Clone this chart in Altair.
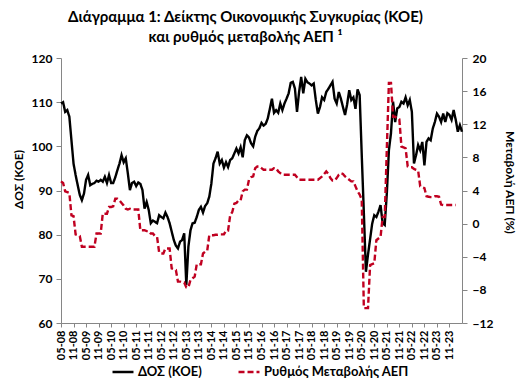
import altair as alt
import pandas as pd

# Monthly index 0 = May 2008
esi = [
    109.7, 110.0, 107.8, 108.2, 106.7, 101.4, 96.1, 93.5, 91.2, 89.0,
    87.8, 89.3, 92.4, 93.5, 91.2, 91.5, 91.7, 92.2, 92.0, 92.4,
    92.0, 93.1, 91.7, 93.5, 91.7, 91.7, 93.0, 94.6, 96.1, 98.0,
    96.4, 97.3, 93.9, 90.1, 91.7, 92.0, 91.0, 91.8, 91.5, 90.1,
    85.9, 87.4, 85.6, 82.6, 83.2, 82.9, 82.6, 84.4, 84.0, 83.7,
    85.0, 84.0, 82.6, 80.7, 78.8, 77.5, 76.9, 78.4, 78.8, 80.3,
    68.6, 77.3, 81.0, 82.6, 82.7, 84.0, 85.6, 86.3, 85.0, 86.5,
    87.1, 88.6, 91.6, 96.1, 97.3, 98.8, 96.1, 96.9, 95.2, 96.4,
    95.3, 96.9, 97.3, 98.4, 99.5, 98.4, 99.8, 97.5, 101.4, 102.5,
    102.0, 100.7, 100.0, 102.2, 103.5, 104.1, 105.3, 104.7, 105.1, 106.3,
    108.5, 110.8, 107.6, 108.2, 107.6, 109.7, 108.2, 109.7, 110.8, 112.0,
    114.4, 114.6, 113.1, 107.8, 112.3, 115.7, 112.0, 115.3, 114.5, 114.2,
    113.8, 114.2, 110.5, 107.4, 108.9, 111.1, 110.5, 112.3, 113.0, 113.8,
    114.6, 110.8, 109.7, 112.3, 110.8, 108.9, 107.1, 109.5, 112.7, 110.5,
    111.1, 108.5, 112.9, 111.6, 98.0, 85.0, 71.6, 75.5, 79.0, 82.5,
    84.4, 84.0, 85.2, 86.7, 82.6, 82.2, 89.3, 99.1, 103.0, 110.1,
    105.5, 108.6, 108.9, 110.1, 109.7, 111.1, 109.3, 110.5, 107.8, 96.1,
    98.0, 100.3, 99.1, 101.0, 95.7, 101.0, 101.8, 101.4, 104.0, 105.5,
    107.4, 106.7, 105.5, 107.4, 105.5, 107.5, 107.1, 106.0, 108.2, 106.0,
    103.3, 104.8, 103.3,
]

gdp = [
    5.1, 4.9, 3.9, 3.8, 3.7, 1.0, 0.9, -1.3, -1.4, -1.5,
    -2.8, -2.8, -2.8, -2.8, -2.8, -2.8, -2.8, -1.2, -1.2, -1.2,
    1.2, 1.2, 1.2, 2.0, 2.0, 2.1, 3.0, 3.0, 2.8, 2.5,
    2.2, 1.8, 1.7, 1.8, 1.7, 1.7, 1.7, 1.7, -0.8, -0.8,
    -0.8, -0.9, -0.9, -1.2, -1.2, -1.5, -1.6, -3.5, -3.6, -3.6,
    -3.0, -3.0, -3.0, -5.4, -5.5, -5.6, -7.0, -7.0, -7.1, -7.1,
    -7.7, -7.7, -6.8, -6.6, -6.4, -4.9, -4.9, -4.9, -3.6, -3.4,
    -3.3, -1.4, -1.4, -1.4, -1.35, -1.35, -1.3, -1.3, -1.3, -0.85,
    -0.85, 1.0, 1.4, 2.4, 2.5, 2.8, 2.8, 3.9, 4.1, 4.1,
    5.3, 5.6, 5.7, 6.7, 6.9, 6.9, 6.7, 6.5, 6.5, 6.5,
    6.5, 6.5, 6.7, 6.7, 6.3, 6.1, 5.9, 5.9, 5.9, 5.9,
    5.9, 5.9, 5.9, 5.6, 5.3, 5.3, 5.3, 5.3, 5.3, 5.3,
    5.3, 5.3, 5.3, 5.3, 5.5, 5.7, 6.0, 6.3, 6.0, 5.5,
    5.2, 5.2, 5.5, 5.9, 6.1, 6.0, 5.7, 5.5, 5.3, 5.1,
    5.1, 4.5, 3.9, 3.5, 2.9, -10.2, -10.2, -10.2, -5.0, -4.9,
    -4.8, -2.0, -1.8, -1.6, 0.8, 0.8, 9.0, 17.0, 17.0, 12.9,
    12.9, 12.7, 12.6, 9.3, 9.2, 9.1, 6.9, 6.8, 6.8, 6.6,
    6.5, 6.4, 4.5, 4.4, 4.3, 3.3, 3.25, 3.2, 3.2, 3.3,
    3.3, 3.25, 2.3, 2.25, 2.25, 2.25, 2.25, 2.25, 2.25, 2.25,
]

tick_months = list(range(0, 187, 6))
names = ["ΔΟΣ (ΚΟΕ)", "Ρυθμός Μεταβολής ΑΕΠ"]
left_ticks = [60, 70, 80, 90, 100, 110, 120]
right_ticks = [-12, -8, -4, 0, 4, 8, 12, 16, 20]

df_esi = pd.DataFrame({"m": list(range(len(esi))), "v": esi, "s": names[0]})
df_gdp = pd.DataFrame({"m": list(range(len(gdp))), "v": gdp, "s": names[1]})

FONT = "Lato"
AX = "#868686"

color_scale = alt.Scale(domain=names, range=["#000000", "#C00020"])
dash_scale = alt.Scale(domain=names, range=[[1, 0], [6, 3]])

legend = alt.Legend(
    title=None, orient="none", legendX=50, legendY=302, direction="horizontal",
    symbolType="stroke", symbolSize=440, symbolStrokeWidth=2.5,
    labelFont=FONT, labelFontWeight="bold", labelFontSize=13, labelColor="#000",
    columnPadding=31, labelOffset=3,
)

x_enc = alt.X(
    "m:Q",
    scale=alt.Scale(domain=[0, 192], nice=False, zero=False),
    axis=alt.Axis(
        values=tick_months,
        labelExpr="timeFormat(datetime(2008, 4 + datum.value, 1), '%m-%y')",
        labelAngle=-90, title=None, grid=False, labelFontSize=11,
        tickSize=4, labelPadding=3,
    ),
)

color_enc = alt.Color("s:N", scale=color_scale, legend=legend)
dash_enc = alt.StrokeDash("s:N", scale=dash_scale, legend=legend)

esi_line = alt.Chart(df_esi).mark_line(strokeWidth=2.4).encode(
    x=x_enc,
    y=alt.Y("v:Q", scale=alt.Scale(domain=[60, 120], nice=False, zero=False),
            axis=alt.Axis(orient="left", values=left_ticks, title="ΔΟΣ (ΚΟΕ)",
                          grid=False, tickSize=5, labelPadding=4,
                          titleY=121, titleX=-36, titleAlign="center")),
    color=color_enc,
    strokeDash=dash_enc,
)

gdp_line = alt.Chart(df_gdp).mark_line(strokeWidth=2.4).encode(
    x=x_enc,
    y=alt.Y("v:Q", scale=alt.Scale(domain=[-12, 20], nice=False, zero=False),
            axis=alt.Axis(orient="right", values=right_ticks, title="Μεταβολή ΑΕΠ (%)",
                          grid=False, tickSize=5, labelPadding=5,
                          titleY=124, titleX=40, titleAlign="center")),
    color=color_enc,
    strokeDash=dash_enc,
)

chart = (
    alt.layer(esi_line, gdp_line)
    .resolve_scale(y="independent")
    .properties(
        width=401, height=265,
        autosize="none",
        padding={"left": 53, "top": 50, "right": 55, "bottom": 55},
        title=alt.Title(
            text="Διάγραμμα 1: Δείκτης Οικονομικής Συγκυρίας (ΚΟΕ)",
            subtitle="και ρυθμός μεταβολής ΑΕΠ ¹",
            font=FONT, fontSize=15, fontWeight="bold", color="#000",
            subtitleFont=FONT, subtitleFontSize=15, subtitleFontWeight="bold",
            subtitleColor="#000", subtitlePadding=5,
            anchor="middle", dx=-16, offset=7,
        ),
    )
    .configure_view(stroke=None)
    .configure_axis(
        labelFont=FONT, labelFontWeight="bold", labelFontSize=12, labelColor="#000",
        titleFont=FONT, titleFontWeight="bold", titleFontSize=12, titleColor="#000",
        domainColor=AX, tickColor=AX, domainWidth=1, tickWidth=1,
    )
)

chart.save("out.html", embed_options={"renderer": "svg", "actions": False})
